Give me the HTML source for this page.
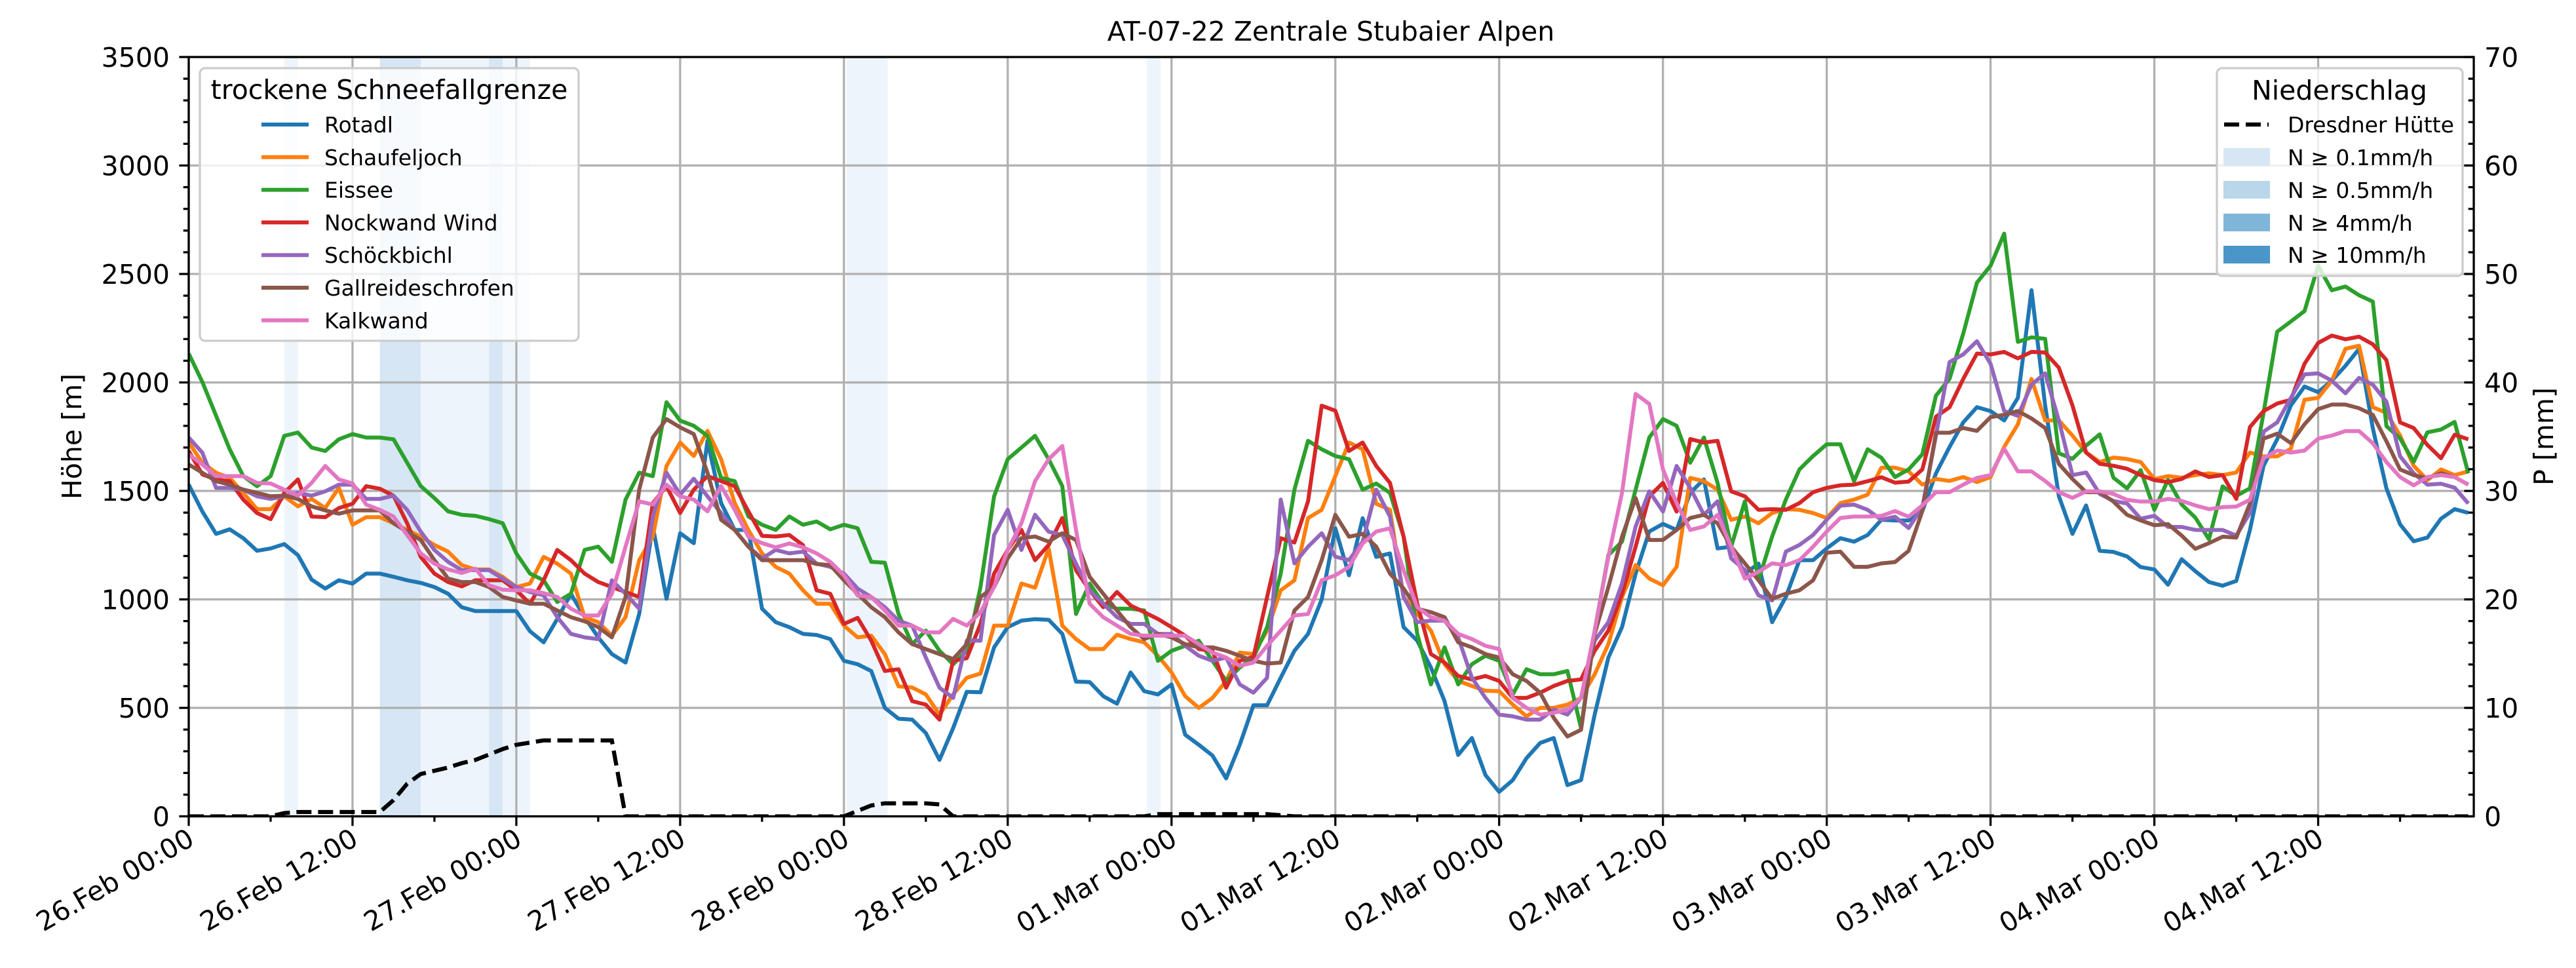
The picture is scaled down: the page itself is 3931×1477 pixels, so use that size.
<!DOCTYPE html>
<html><head><meta charset="utf-8">
<style>
html,body{margin:0;padding:0;background:#fff;}
svg{display:block;font-family:"DejaVu Sans","Liberation Sans",sans-serif;}
</style></head>
<body>
<svg id="chart" width="3931" height="1477" viewBox="0 0 3931 1477" xmlns="http://www.w3.org/2000/svg">
<defs><clipPath id="plotclip"><rect x="288" y="87" width="3487" height="1159"/></clipPath></defs>
<rect x="0" y="0" width="3931" height="1477" fill="#fff"/>
<g id="bands"></g>
<g id="grid"></g>
<g id="series" clip-path="url(#plotclip)"></g>
<g id="axes"></g>
<text x="2031" y="62" font-size="41" text-anchor="middle">AT-07-22 Zentrale Stubaier Alpen</text>
<text transform="translate(124,666) rotate(-90)" font-size="41" text-anchor="middle">Höhe [m]</text>
<text transform="translate(3896,666) rotate(-90)" font-size="41" text-anchor="middle">P [mm]</text>
<g id="legend1">
<rect x="305" y="104" width="578" height="416" rx="8" fill="#fff" fill-opacity="0.8" stroke="#cccccc" stroke-width="3.3"/>
<text x="594" y="151" font-size="41" text-anchor="middle">trockene Schneefallgrenze</text>
</g>
<g id="legend2">
<rect x="3383" y="104" width="375" height="317" rx="8" fill="#fff" fill-opacity="0.8" stroke="#cccccc" stroke-width="3.3"/>
<text x="3570" y="152" font-size="41" text-anchor="middle">Niederschlag</text>
<line x1="3394" y1="190" x2="3462" y2="190" stroke="#000" stroke-width="6.25" stroke-dasharray="23,10"/>
<text x="3491" y="202" font-size="33">Dresdner Hütte</text>
<rect x="3393" y="226" width="71" height="27" fill="#d6e6f4"/>
<text x="3491" y="252" font-size="33">N ≥ 0.1mm/h</text>
<rect x="3393" y="276" width="71" height="27" fill="#b9d6ea"/>
<text x="3491" y="302" font-size="33">N ≥ 0.5mm/h</text>
<rect x="3393" y="326" width="71" height="27" fill="#7fb5d8"/>
<text x="3491" y="352" font-size="33">N ≥ 4mm/h</text>
<rect x="3393" y="375" width="71" height="27" fill="#4a96c9"/>
<text x="3491" y="401" font-size="33">N ≥ 10mm/h</text>
</g>
</svg>
<script>
const seriesNames = ["Rotadl","Schaufeljoch","Eissee","Nockwand Wind","Schöckbichl","Gallreideschrofen","Kalkwand"];
const seriesColors = ["#1f77b4","#ff7f0e","#2ca02c","#d62728","#9467bd","#8c564b","#e377c2"];
const rotadl = [1529,1405,1302,1323,1282,1224,1235,1255,1204,1091,1050,1088,1073,1119,1119,1104,1088,1076,1057,1026,964,946,946,946,946,853,802,910,1026,918,825,748,709,933,1336,1003,1305,1259,1731,1444,1320,1320,957,895,
872,841,836,817,717,701,670,500,450,446,384,260,407,574,572,779,872,902,909,906,841,621,619,554,519,663,577,562,608,376,330,280,175,330,512,512,639,763,841,1000,1328,
1111,1374,1196,1212,872,810,686,531,283,361,190,113,167,268,338,361,144,167,469,732,872,1119,1313,1348,1320,1491,1553,1235,1243,1119,1165,895,1011,1181,1181,1235,1282,1266,1297,1367,
1364,1364,1407,1581,1703,1816,1886,1868,1825,1929,2425,1894,1476,1302,1433,1224,1219,1198,1149,1138,1068,1185,1130,1080,1063,1085,1320,1616,1738,1894,1981,1955,2008,2077,2155,1790,1512,1346,1268,1285,1372,1416,1399];
const schaufeljoch = [1723,1630,1584,1560,1491,1416,1416,1475,1429,1463,1421,1514,1344,1379,1379,1351,1320,1289,1251,1220,1158,1138,1138,1104,1057,1073,1196,1165,1119,918,895,833,918,1181,1289,1615,1723,1661,1777,1646,1444,1320,1212,1150,
1119,1042,980,980,879,825,833,748,599,594,562,469,562,639,658,879,879,1073,1054,1235,879,817,771,771,837,817,802,740,663,554,500,546,624,755,748,856,1042,1088,1375,1413,1568,
1723,1692,1441,1413,1011,933,856,701,624,601,579,577,515,461,500,500,515,546,655,794,1011,1158,1096,1065,1150,1560,1545,1506,1367,1382,1351,1398,1416,1413,1398,1375,1444,1460,1483,1607,
1607,1590,1529,1555,1546,1564,1541,1564,1703,1807,2016,1825,1825,1755,1677,1633,1654,1647,1633,1555,1568,1561,1573,1581,1573,1585,1677,1659,1659,1694,1920,1929,2008,2155,2169,1886,1860,1755,1616,1550,1599,1573,1590];
const eissee = [2133,2002,1847,1692,1568,1522,1568,1754,1769,1700,1684,1738,1762,1746,1746,1738,1630,1522,1467,1406,1390,1385,1370,1351,1212,1119,1088,988,1026,1228,1243,1173,1460,1584,1568,1909,1824,1800,1754,1560,1545,1382,1344,1320,
1382,1344,1359,1323,1344,1328,1173,1169,933,794,856,763,701,763,1057,1475,1646,1700,1754,1646,1522,933,1073,980,957,957,949,717,763,786,810,717,624,686,732,872,1119,1506,1731,1692,1661,
1646,1506,1534,1491,1290,841,608,779,608,701,740,717,562,678,655,655,670,407,856,1204,1266,1506,1746,1831,1800,1630,1746,1537,1243,1452,1088,1290,1460,1599,1661,1715,1715,1545,1692,1653,
1564,1599,1669,1939,2017,2225,2460,2538,2686,2187,2208,2201,1674,1648,1709,1761,1561,1512,1596,1413,1551,1438,1377,1277,1521,1477,1512,1860,2234,2281,2329,2538,2425,2442,2402,2373,1799,1742,1634,1770,1783,1818,1581];
const nockwand = [1684,1576,1553,1545,1460,1398,1370,1491,1553,1382,1379,1421,1441,1522,1510,1478,1351,1196,1119,1080,1060,1088,1088,1088,1042,980,1088,1228,1181,1119,1080,1057,1034,1011,1444,1522,1398,1506,1568,1545,1522,1406,1293,1290,
1297,1250,1042,1026,887,915,810,670,678,531,515,446,717,729,887,1119,1228,1320,1181,1251,1375,1135,1042,964,1034,972,941,910,872,833,771,763,593,717,735,1011,1282,1262,1452,1893,1870,
1684,1723,1615,1537,1290,980,748,709,647,631,647,624,546,546,570,601,624,631,763,856,1026,1243,1475,1537,1405,1739,1723,1731,1498,1475,1413,1416,1413,1444,1494,1514,1526,1529,1545,1563,
1538,1543,1599,1842,1886,2016,2133,2129,2141,2111,2141,2138,2068,1894,1677,1625,1616,1602,1573,1550,1541,1555,1590,1564,1573,1463,1794,1868,1903,1920,2086,2182,2216,2199,2211,2176,2103,1816,1790,1712,1651,1759,1738];
const schoeckbichl = [1746,1676,1514,1514,1506,1475,1463,1475,1491,1478,1498,1529,1529,1463,1463,1478,1413,1312,1228,1173,1135,1135,1135,1096,1057,1034,1019,918,841,825,817,1088,1026,957,1382,1584,1483,1556,1475,1398,1320,1243,1189,1228,
1212,1220,1165,1150,1119,1050,1011,964,902,879,732,593,546,810,810,1297,1413,1228,1390,1312,1297,1165,1042,980,918,887,887,841,841,786,740,717,732,608,570,639,1460,1166,1243,1305,1197,
1181,1266,1506,1382,1011,895,902,902,825,639,546,469,461,446,446,492,469,546,810,895,1073,1336,1498,1405,1615,1514,1390,1452,1189,1135,1019,995,1220,1251,1297,1367,1432,1437,1413,1367,
1381,1329,1425,1755,2094,2129,2190,2086,1868,1846,1990,2042,1825,1573,1585,1486,1454,1442,1372,1385,1334,1334,1320,1320,1320,1294,1399,1773,1816,1929,2037,2042,2008,1950,2021,1990,1912,1660,1581,1529,1533,1515,1442];
const gallreide = [1622,1584,1545,1529,1506,1491,1475,1478,1463,1429,1410,1395,1410,1410,1410,1351,1312,1274,1181,1096,1080,1080,1057,1011,995,980,980,949,918,899,872,825,1011,1506,1746,1831,1793,1762,1584,1367,1320,1243,1181,1181,
1181,1181,1163,1158,1088,1026,964,918,848,794,771,748,725,794,1011,1057,1189,1282,1290,1266,1305,1274,1104,1026,949,872,817,841,825,794,779,779,763,740,717,704,709,949,1011,1181,1390,
1289,1302,1243,1119,1050,957,941,918,802,779,748,732,655,624,570,454,368,399,841,1057,1289,1467,1274,1274,1320,1375,1390,1351,1243,1166,1088,1003,1026,1042,1088,1215,1220,1150,1150,1166,
1172,1224,1407,1768,1768,1790,1777,1840,1851,1868,1834,1790,1625,1555,1494,1494,1451,1390,1364,1342,1347,1294,1233,1259,1289,1285,1442,1741,1764,1720,1807,1877,1898,1898,1881,1851,1729,1599,1573,1559,1581,1564,1529];
const kalkwand = [1669,1622,1568,1568,1568,1537,1534,1506,1478,1537,1615,1553,1534,1437,1413,1382,1297,1212,1165,1138,1122,1142,1065,1045,1042,1042,1029,1011,957,926,926,1026,1243,1452,1437,1529,1475,1460,1406,1522,1413,1289,1259,1240,
1258,1240,1212,1173,1111,1018,1011,949,879,879,848,848,910,879,941,1057,1228,1351,1545,1646,1707,1320,980,918,879,841,833,833,833,833,794,755,732,694,709,786,856,926,933,1088,1111,
1150,1258,1313,1328,1135,964,918,902,841,817,786,771,546,500,469,477,492,546,856,1197,1491,1947,1901,1599,1444,1320,1336,1390,1243,1096,1127,1166,1158,1181,1243,1313,1375,1382,1382,1385,
1407,1381,1433,1494,1494,1529,1560,1573,1694,1590,1590,1546,1494,1468,1498,1498,1486,1459,1451,1451,1463,1454,1433,1416,1425,1428,1459,1651,1686,1677,1686,1741,1755,1776,1776,1720,1633,1564,1526,1564,1573,1564,1529];
const precip = [0,0,0,0,0,0,0,0.3,0.4,0.4,0.4,0.4,0.4,0.4,0.4,1.5,3.0,3.9,4.2,4.5,4.9,5.2,5.7,6.2,6.6,6.8,7,7,7,7,7,7,
0,0,0,0,0,0,0,0,0,0,0,0,0,0,0,0,0,
0.5,1.0,1.2,1.2,1.2,1.2,1.1,
0,0,0,0,0,0,0,0,0,0,0,0,0,0,0,
0.2,0.2,0.2,0.2,0.2,0.2,0.2,0.2,0.2,0.1,
0,0,0,0,0,0,0,0,0,0,0,0,0,0,0,0,0,0,0,0,0,0,0,0,0,0,0,0,0,0,0,0,0,0,0,0,0,0,0,0,0,0,0,0,
0,0,0,0,0,0,0,0,0,0,0,0,0,0,0,0,0,0,0,0,0,0,0,0,0,0,0,0,0,0,0,0,0,0,0,0,0,0,0,0,0,0,0];
const bandStart = [7,14,17,22,23,48.2,70.2];
const bandEnd = [8,17,22,23,25,51.2,71.2];
const bandLevel = [0,1,0,1,0,0,0];
const xTickLabels = ["26.Feb 00:00","26.Feb 12:00","27.Feb 00:00","27.Feb 12:00","28.Feb 00:00","28.Feb 12:00","01.Mar 00:00","01.Mar 12:00","02.Mar 00:00","02.Mar 12:00","03.Mar 00:00","03.Mar 12:00","04.Mar 00:00","04.Mar 12:00"];
const yTicks = [0,500,1000,1500,2000,2500,3000,3500];
const y2Ticks = [0,10,20,30,40,50,60,70];

const NS="http://www.w3.org/2000/svg";
const L=288,R=3775,T=87,B=1245.6;
const HOURS=167.4;
const xS=h=>L+(R-L)*h/HOURS;
const yS=v=>B-(B-T)*v/3500;
const y2S=v=>B-(B-T)*v/70;
function mk(tag,attrs,parent){const e=document.createElementNS(NS,tag);for(const k in attrs)e.setAttribute(k,attrs[k]);parent.appendChild(e);return e;}
const gBands=document.getElementById('bands'),gGrid=document.getElementById('grid'),gSer=document.getElementById('series'),gAx=document.getElementById('axes');
const bandCols=["#eef4fb","#d6e6f4"];
bandStart.forEach((s,i)=>{const r=mk('rect',{x:xS(s),y:T,width:xS(bandEnd[i])-xS(s),height:B-T,fill:bandCols[bandLevel[i]]},gBands);

});
xTickLabels.forEach((t,i)=>{const x=xS(i*12);const l=mk('line',{x1:x,y1:T,x2:x,y2:B,stroke:"#b0b0b0","stroke-width":3.3},gGrid);

});
yTicks.forEach(v=>{const y=yS(v);const l=mk('line',{x1:L,y1:y,x2:R,y2:y,stroke:"#b0b0b0","stroke-width":3.3},gGrid);

});
const allSeries=[rotadl,schaufeljoch,eissee,nockwand,schoeckbichl,gallreide,kalkwand];
allSeries.forEach((arr,si)=>{const d=arr.map((v,i)=>(i?'L':'M')+xS(i).toFixed(1)+','+yS(v).toFixed(1)).join('');
const p=mk('path',{d:d,fill:"none",stroke:seriesColors[si],"stroke-width":6,"stroke-linejoin":"round"},gSer);

});
{const d=precip.map((v,i)=>(i?'L':'M')+xS(i).toFixed(1)+','+y2S(v).toFixed(1)).join('');
const p=mk('path',{d:d,fill:"none",stroke:"#000","stroke-width":6.25,"stroke-dasharray":"23,10"},gSer);

}
mk('rect',{x:L,y:T,width:R-L,height:B-T,fill:"none",stroke:"#000","stroke-width":3.3},gAx);
for(let v=0;v<=3500;v+=100){const y=yS(v);const maj=v%500===0;mk('line',{x1:L-(maj?14.6:8.3),y1:y,x2:L,y2:y,stroke:"#000","stroke-width":3.3},gAx);}
yTicks.forEach(v=>{const t=mk('text',{x:L-29,y:yS(v)+15,"font-size":41,"text-anchor":"end"},gAx);t.textContent=v;

});
for(let v=0;v<=70;v+=2){const y=y2S(v);const maj=v%10===0;mk('line',{x1:R-(maj?14.6:8.3),y1:y,x2:R,y2:y,stroke:"#000","stroke-width":3.3},gAx);}
y2Ticks.forEach(v=>{const t=mk('text',{x:R+16,y:y2S(v)+15,"font-size":41},gAx);t.textContent=v;

});
for(let h=0;h<=HOURS;h+=6){const x=xS(h);const maj=h%12===0;mk('line',{x1:x,y1:B,x2:x,y2:B+(maj?14.6:8.3),stroke:"#000","stroke-width":3.3},gAx);}
xTickLabels.forEach((s,i)=>{const x=xS(i*12)-4,y=B+16;const t=mk('text',{transform:`translate(${x},${y}) rotate(-30)`,"font-size":41,"text-anchor":"end",y:30},gAx);t.textContent=s;

});
const lg=document.getElementById('legend1');
seriesNames.forEach((n,i)=>{const y=190+i*49.8;
const g=mk('g',{},lg);


mk('line',{x1:399,y1:y,x2:471,y2:y,stroke:seriesColors[i],"stroke-width":6},g);
const t=mk('text',{x:495,y:y+12,"font-size":33},g);t.textContent=n;});
</script>
</body></html>
